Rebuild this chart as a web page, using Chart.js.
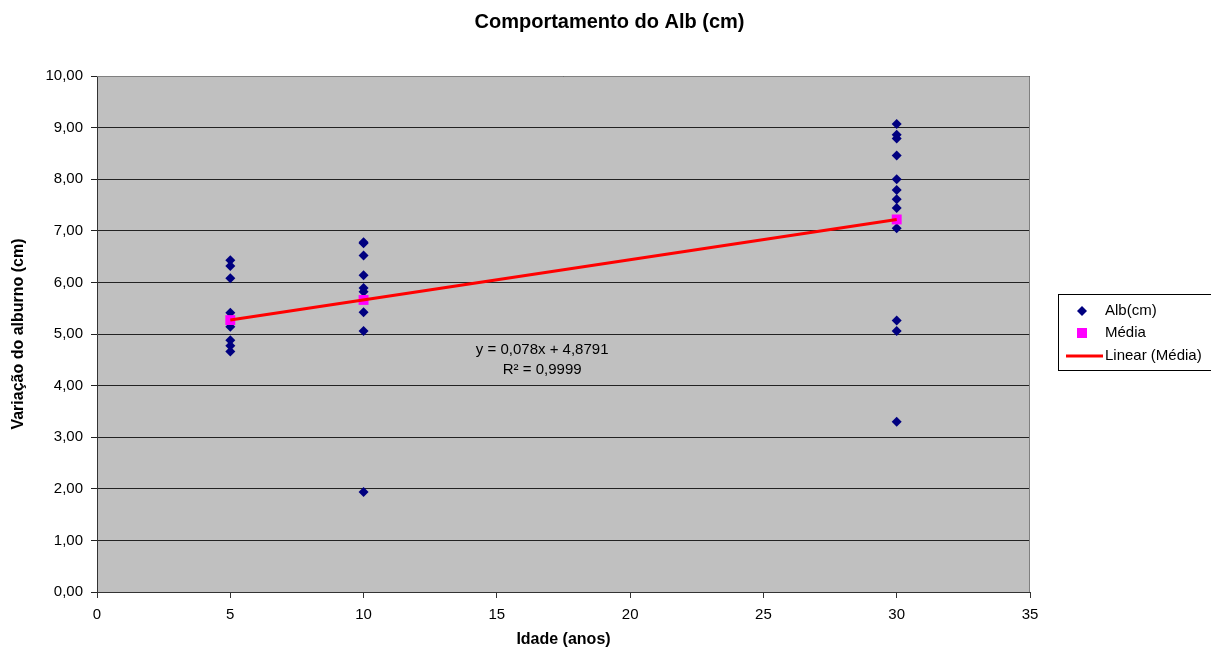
<!DOCTYPE html>
<html>
<head>
<meta charset="utf-8">
<script src="https://cdn.jsdelivr.net/npm/chart.js@4/dist/chart.umd.min.js"></script>
<style>
  body { margin: 0; background: #fff; }
  #wrap { width: 1211px; height: 649px; position: relative; }
</style>
</head>
<body>
<div id="wrap"><canvas id="grafico"></canvas></div>
<script>
// dados
var idades = [5, 10, 30];
var alb5 = [6.43, 6.32, 6.08, 5.41, 5.14, 4.88, 4.77, 4.66];
var alb10 = [6.78, 6.76, 6.52, 6.14, 5.89, 5.82, 5.42, 5.06, 1.94];
var alb30 = [9.07, 8.86, 8.79, 8.46, 8.00, 7.79, 7.61, 7.44, 7.05, 5.26, 5.06, 3.30];
var medias = [5.27, 5.66, 7.22];
var tendX = [5, 30];
var tendY = [5.27, 7.22];
var yTicks = [0, 1, 2, 3, 4, 5, 6, 7, 8, 9, 10];
var titulo = "Comportamento do Alb (cm)";
var equacao = ["y = 0,078x + 4,8791", "R\u00B2 = 0,9999"];
var legendas = ["Alb(cm)", "M\u00e9dia", "Linear (M\u00e9dia)"];

var FONTE = "'Liberation Sans', Arial, sans-serif";

// monta os pontos
var pontosAlb = [];
[alb5, alb10, alb30].forEach(function (lista, i) {
    lista.forEach(function (v) { pontosAlb.push({ x: idades[i], y: v }); });
});
var pontosMedia = idades.map(function (x, i) { return { x: x, y: medias[i] }; });
var pontosTend = tendX.map(function (x, i) { return { x: x, y: tendY[i] }; });

// fundo cinza da area do grafico + titulo centrado na pagina
var fundoPlugin = {
    id: "fundo",
    beforeDraw: function (chart) {
        var a = chart.chartArea, ctx = chart.ctx;
        ctx.save();
        ctx.fillStyle = "#C0C0C0";
        ctx.fillRect(a.left, a.top, a.right - a.left, a.bottom - a.top);
        ctx.fillStyle = "#000";
        ctx.font = "bold 20px " + FONTE;
        ctx.textAlign = "center";
        ctx.textBaseline = "middle";
        ctx.fillText(titulo, chart.width / 2 + 4, 22);
        ctx.restore();
    },
    afterDraw: function (chart) {
        var a = chart.chartArea, ctx = chart.ctx;
        ctx.save();
        ctx.strokeStyle = "#808080";
        ctx.lineWidth = 1;
        ctx.beginPath();
        ctx.moveTo(a.left, a.top + 0.5);
        ctx.lineTo(a.right - 0.5, a.top + 0.5);
        ctx.lineTo(a.right - 0.5, a.bottom);
        ctx.stroke();
        ctx.restore();
    }
};

// texto da equacao da linha de tendencia
var equacaoPlugin = {
    id: "equacao",
    afterDatasetsDraw: function (chart) {
        var ctx = chart.ctx;
        var x = chart.scales.x.getPixelForValue(16.7);
        var y1 = chart.scales.y.getPixelForValue(4.69);
        var y2 = chart.scales.y.getPixelForValue(4.30);
        ctx.save();
        ctx.fillStyle = "#000";
        ctx.font = "15px " + FONTE;
        ctx.textAlign = "center";
        ctx.textBaseline = "middle";
        ctx.fillText(equacao[0], x, y1);
        ctx.fillText(equacao[1], x, y2);
        ctx.restore();
    }
};

// legenda com borda a direita
var legendaPlugin = {
    id: "legendaBox",
    afterDraw: function (chart) {
        var ctx = chart.ctx;
        var left = 1058, top = 294, w = 160, h = 76;
        ctx.save();
        ctx.fillStyle = "#fff";
        ctx.fillRect(left, top, w, h);
        ctx.strokeStyle = "#000";
        ctx.lineWidth = 1;
        ctx.strokeRect(left + 0.5, top + 0.5, w, h);
        ctx.font = "15px " + FONTE;
        ctx.textBaseline = "middle";
        var linhas = [311, 333, 356];
        // losango
        ctx.fillStyle = "#000080";
        ctx.beginPath();
        ctx.moveTo(1082 - 5, linhas[0]);
        ctx.lineTo(1082, linhas[0] - 5);
        ctx.lineTo(1082 + 5, linhas[0]);
        ctx.lineTo(1082, linhas[0] + 5);
        ctx.closePath();
        ctx.fill();
        // quadrado
        ctx.fillStyle = "#FF00FF";
        ctx.fillRect(1077, linhas[1] - 5, 10, 10);
        // linha
        ctx.strokeStyle = "#FF0000";
        ctx.lineWidth = 3;
        ctx.beginPath();
        ctx.moveTo(1066, linhas[2]);
        ctx.lineTo(1103, linhas[2]);
        ctx.stroke();
        ctx.fillStyle = "#000";
        ctx.fillText(legendas[0], 1105, linhas[0]);
        ctx.fillText(legendas[1], 1105, linhas[1]);
        ctx.fillText(legendas[2], 1105, linhas[2]);
        ctx.restore();
    }
};

var ctx = document.getElementById("grafico").getContext("2d");
var meuGrafico = new Chart(ctx, {
    type: "scatter",
    data: {
        datasets: [
            {
                label: legendas[0],
                data: pontosAlb,
                pointStyle: "rectRot",
                pointRadius: 5,
                pointHoverRadius: 5,
                backgroundColor: "#000080",
                borderColor: "#000080",
                borderWidth: 0,
                order: 3
            },
            {
                label: legendas[1],
                data: pontosMedia,
                pointStyle: "rect",
                pointRadius: 7,
                pointHoverRadius: 7,
                backgroundColor: "#FF00FF",
                borderColor: "#FF00FF",
                borderWidth: 0,
                order: 2
            },
            {
                label: legendas[2],
                type: "line",
                data: pontosTend,
                borderColor: "#FF0000",
                borderWidth: 3,
                pointRadius: 0,
                fill: false,
                order: 1
            }
        ]
    },
    options: {
        responsive: true,
        maintainAspectRatio: false,
        animation: false,
        events: [],
        layout: { padding: { left: 0, right: 181, top: 76, bottom: 0 } },
        plugins: {
            legend: { display: false },
            tooltip: { enabled: false },
            title: { display: false }
        },
        scales: {
            x: {
                type: "linear",
                min: 0,
                max: 35,
                afterFit: function (s) { s.height = 57; },
                ticks: { stepSize: 5, color: "#000", font: { family: FONTE, size: 15 }, padding: 8 },
                grid: { drawOnChartArea: false, drawTicks: true, tickLength: 6, color: "#333" },
                border: { color: "#333", width: 1 },
                title: {
                    display: true,
                    text: "Idade (anos)",
                    color: "#000",
                    font: { family: FONTE, size: 16, weight: "bold" },
                    padding: { top: 0, bottom: 0 }
                }
            },
            y: {
                min: 0,
                max: 10,
                afterFit: function (s) { s.width = 97; },
                afterBuildTicks: function (s) { s.ticks = yTicks.map(function (v) { return { value: v }; }); },
                ticks: {
                    color: "#000",
                    font: { family: FONTE, size: 15 },
                    padding: 8,
                    callback: function (v) { return v.toFixed(2).replace(".", ","); }
                },
                grid: { color: "#222", tickLength: 6 },
                border: { color: "#333", width: 1 },
                title: {
                    display: true,
                    text: "Varia\u00e7\u00e3o do alburno (cm)",
                    color: "#000",
                    font: { family: FONTE, size: 16, weight: "bold" },
                    padding: { top: 9, bottom: 0 }
                }
            }
        }
    },
    plugins: [fundoPlugin, equacaoPlugin, legendaPlugin]
});
</script>
</body>
</html>
